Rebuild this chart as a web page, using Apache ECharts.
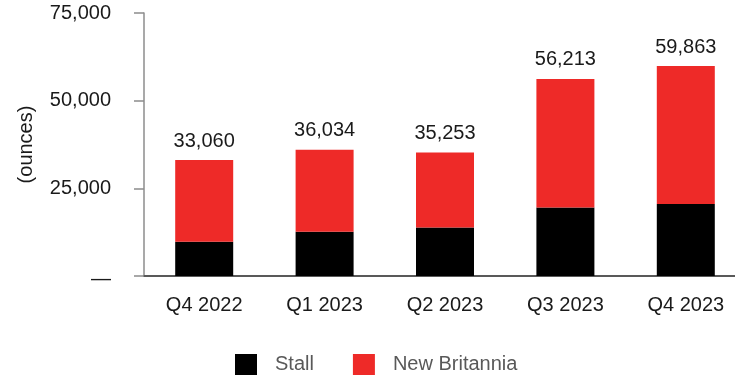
<!DOCTYPE html>
<html>
<head>
<meta charset="utf-8">
<script src="https://cdn.jsdelivr.net/npm/echarts@6/dist/echarts.min.js"></script>
<style>
  html, body { margin: 0; padding: 0; background: #fff; }
  #chart { width: 735px; height: 381px; }
</style>
</head>
<body>
<div id="chart"></div>
<script>
// Quarterly gold production by mine (ounces)
const quarters = ['Q4 2022', 'Q1 2023', 'Q2 2023', 'Q3 2023', 'Q4 2023'];
const totals = [33060, 36034, 35253, 56213, 59863];
const stall = [9800, 12600, 13800, 19500, 20500];
const newBritannia = totals.map((t, i) => t - stall[i]);
const yTicks = [0, 25000, 50000, 75000];

const fontFamily = 'Liberation Sans, Arial, sans-serif';
const chart = echarts.init(document.getElementById('chart'));

chart.setOption({
  animation: false,
  textStyle: { fontFamily },
  // the last category slot runs past the right edge of the canvas
  grid: { left: 144, width: 602, top: 13, bottom: 105, outerBoundsMode: 'none', containLabel: false },
  legend: {
    data: ['Stall', 'New Britannia'],
    left: 235,
    top: 354,
    padding: 0,
    itemWidth: 22,
    itemHeight: 21,
    itemGap: 39,
    icon: 'rect',
    textStyle: { fontSize: 20, color: '#595959', fontFamily, padding: [0, 0, 0, 13] }
  },
  xAxis: {
    type: 'category',
    data: quarters,
    axisLine: { lineStyle: { color: '#595959', width: 2 } },
    axisTick: { show: false },
    axisLabel: { fontSize: 20, color: '#1a1a1a', margin: 19 }
  },
  yAxis: {
    type: 'value',
    min: yTicks[0],
    max: yTicks[yTicks.length - 1],
    interval: 25000,
    name: '(ounces)',
    nameLocation: 'middle',
    nameRotate: 90,
    nameGap: 108,
    nameTextStyle: { fontSize: 20, color: '#1a1a1a', fontFamily },
    axisLine: { show: true, lineStyle: { color: '#8c8c8c', width: 1.5 } },
    axisTick: { show: true, length: 10, lineStyle: { color: '#8c8c8c', width: 1.5 } },
    splitLine: { show: false },
    axisLabel: {
      fontSize: 20,
      color: '#1a1a1a',
      margin: 33,
      // zero is shown as a dash, sitting a little below the baseline
      formatter: v => v === 0 ? '{dash|\u2014}' : v.toLocaleString('en-US'),
      rich: { dash: { fontSize: 20, color: '#1a1a1a', padding: [7, 0, 0, 0] } }
    }
  },
  series: [
    {
      name: 'Stall',
      type: 'bar',
      stack: 'total',
      data: stall,
      barWidth: 58,
      itemStyle: { color: '#000000' }
    },
    {
      name: 'New Britannia',
      type: 'bar',
      stack: 'total',
      data: newBritannia,
      barWidth: 58,
      itemStyle: { color: '#ee2a28' },
      label: {
        show: true,
        position: 'top',
        distance: 9,
        fontSize: 20,
        color: '#1a1a1a',
        formatter: p => totals[p.dataIndex].toLocaleString('en-US')
      }
    }
  ]
});
</script>
</body>
</html>
